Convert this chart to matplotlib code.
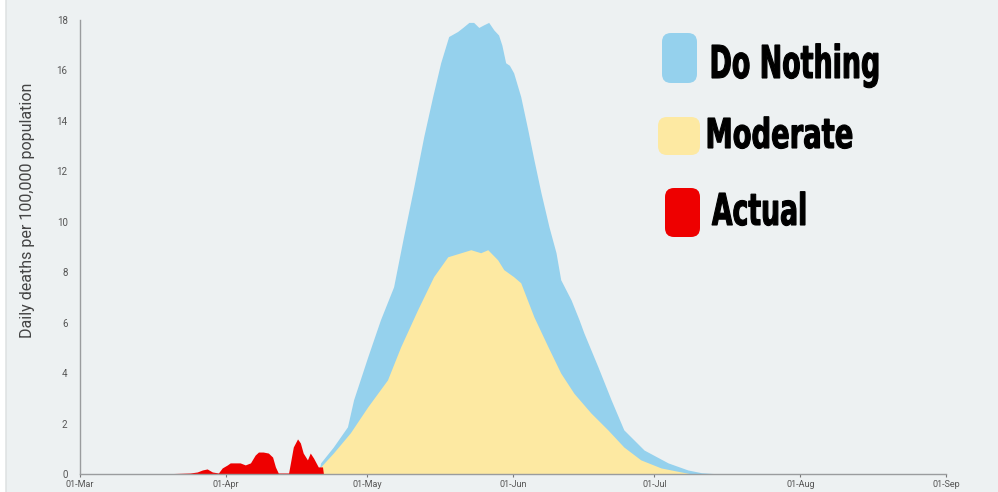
import matplotlib.pyplot as plt
import numpy as np
import pandas as pd
from matplotlib.patches import FancyBboxPatch, PathPatch
from matplotlib.textpath import TextPath
from matplotlib.font_manager import FontProperties
from matplotlib.transforms import Affine2D, IdentityTransform

# day offsets from 01-Mar and values
do_nothing_days = [50.6, 51.1, 53.8, 56.8, 58.1, 61.1, 63.8, 66.6, 68.7, 70.9, 73.0, 74.9, 76.6,
                   78.3, 80.2, 81.3, 82.6, 83.6, 84.7, 85.7, 86.8, 87.9, 88.9, 89.6, 90.4, 91.2,
                   92.1, 93.6, 95.1, 96.4, 97.9, 99.6, 101.1, 102.1, 104.3, 106.0, 107.0, 110.0,
                   112.8, 115.5, 119.8, 124.9, 129.1, 132.0, 136.0]
do_nothing_vals = [0.0, 0.44, 1.07, 1.87, 2.94, 4.64, 6.11, 7.42, 9.40, 11.39, 13.37, 14.96, 16.3,
                   17.34, 17.54, 17.7, 17.9, 17.9, 17.7, 17.8, 17.9, 17.6, 17.4, 17.0, 16.3, 16.2,
                   15.9, 14.96, 13.65, 12.46, 11.15, 9.80, 8.77, 7.70, 6.9, 6.11, 5.6, 4.25,
                   2.94, 1.75, 0.95, 0.44, 0.16, 0.05, 0.0]

moderate_days = [51.1, 53.8, 57.4, 61.1, 65.3, 68.1, 71.7, 75.1, 78.1, 80.9, 83.0, 85.1, 86.6,
                 88.7, 90.0, 92.1, 93.6, 96.4, 99.4, 102.1, 104.9, 108.5, 112.1, 115.5, 119.1,
                 123.4, 127.7, 130.0]
moderate_vals = [0.28, 0.83, 1.63, 2.66, 3.73, 5.04, 6.51, 7.82, 8.61, 8.77, 8.89, 8.77, 8.89,
                 8.49, 8.1, 7.82, 7.58, 6.23, 5.04, 4.0, 3.2, 2.42, 1.75, 1.07, 0.56,
                 0.24, 0.08, 0.0]

actual_days = [15.0, 20.0, 23.4, 24.9, 26.0, 27.0, 28.1, 29.4, 30.2, 31.3, 31.9, 33.0, 34.0, 35.1,
               36.2, 37.2, 37.9, 38.9, 40.0, 40.9, 41.5, 42.1, 43.2, 44.3, 45.3, 46.2, 46.8,
               47.4, 48.3, 48.9, 49.6, 50.6, 51.5, 51.7]
actual_vals = [0.0, 0.02, 0.04, 0.08, 0.16, 0.2, 0.08, 0.04, 0.24, 0.36, 0.44, 0.44, 0.44, 0.36,
               0.44, 0.75, 0.87, 0.87, 0.83, 0.67, 0.28, 0.04, 0.04, 0.04, 1.07, 1.39, 1.23,
               0.83, 0.56, 0.83, 0.63, 0.28, 0.28, 0.0]

month_starts = pd.date_range("2020-03-01", "2020-09-01", freq="MS")
month_labels = [d.strftime("%d-%b") for d in month_starts]
month_offsets = [(d - month_starts[0]).days for d in month_starts]

legend_labels = ["Do Nothing", "Moderate", "Actual"]

BLUE = "#95d1ed"
YELLOW = "#fde9a2"
RED = "#ee0000"
PANEL = "#edf1f2"

W, H = 998, 492
fig = plt.figure(figsize=(W / 100, H / 100), dpi=100, facecolor="white")
panel = FancyBboxPatch((0.006, -0.05), 1.05, 1.10, transform=fig.transFigure,
                       boxstyle="round,pad=0,rounding_size=0.02", facecolor=PANEL,
                       edgecolor="#dcdfe0", linewidth=1.0, zorder=-5)
fig.patches.append(panel)

ax = fig.add_axes([0.0802, 0.0366, 0.868, 0.923], zorder=1)
ax.set_facecolor("none")

ax.fill_between(do_nothing_days, do_nothing_vals, color=BLUE, linewidth=0, zorder=2)
ax.fill_between(moderate_days, moderate_vals, color=YELLOW, linewidth=0, zorder=3)
ax.fill_between(actual_days, actual_vals, color=RED, linewidth=0, zorder=4)

ax.set_xlim(0, month_offsets[-1])
ax.set_ylim(0, 18)
ax.set_xticks(month_offsets)
ax.set_xticklabels(month_labels)
ax.set_yticks(np.arange(0, 19, 2))

for side in ("top", "right"):
    ax.spines[side].set_visible(False)
for side in ("left", "bottom"):
    ax.spines[side].set_color("#9a9c9e")
    ax.spines[side].set_linewidth(1.0)
    ax.spines[side].set_zorder(5)

ax.tick_params(axis="x", length=2, color="#777777", labelsize=6.5, labelcolor="#555555", pad=2)
ax.tick_params(axis="y", length=0, labelsize=7, labelcolor="#555555", pad=9)
for lab in ax.get_xticklabels() + ax.get_yticklabels():
    lab.set_family(["Roboto", "DejaVu Sans"])

ax.set_ylabel("Daily deaths per 100,000 population", fontsize=11.5, color="#444444",
              family=["Roboto", "DejaVu Sans"], labelpad=12)
ax.yaxis.set_label_coords(-0.052, 0.58)

# legend: rounded swatches and heavy condensed labels (pixel boxes, top-down)
swatch_colors = [BLUE, YELLOW, RED]
swatch_boxes = [(662, 33, 697, 83), (658, 117, 700, 155), (665, 188, 700, 237)]
# (left, cap top, right, baseline)
text_boxes = [(712, 45, 878, 78), (708, 118, 852, 148), (712, 193, 805, 225)]
prop = FontProperties(family="DejaVu Sans", weight="bold")
cap_h = TextPath((0, 0), "H", size=1, prop=prop).get_extents().height

for lab, col, sb, tb in zip(legend_labels, swatch_colors, swatch_boxes, text_boxes):
    x0, y0, x1, y1 = sb
    sw = FancyBboxPatch((x0, H - y1), x1 - x0, y1 - y0, transform=IdentityTransform(),
                        boxstyle="round,pad=0,rounding_size=9", facecolor=col,
                        edgecolor="none", zorder=6)
    fig.patches.append(sw)

    tp = TextPath((0, 0), lab, size=1, prop=prop)
    ext = tp.get_extents()
    left, top, right, base = tb
    sx = (right - left) / ext.width
    sy = (base - top) / cap_h
    tr = Affine2D().translate(-ext.x0, 0).scale(sx, sy).translate(left, H - base)
    fig.patches.append(PathPatch(tr.transform_path(tp), transform=IdentityTransform(),
                                 facecolor="black", edgecolor="black", linewidth=0.8,
                                 zorder=7))

fig.savefig("out.png", dpi=100, facecolor=fig.get_facecolor())
